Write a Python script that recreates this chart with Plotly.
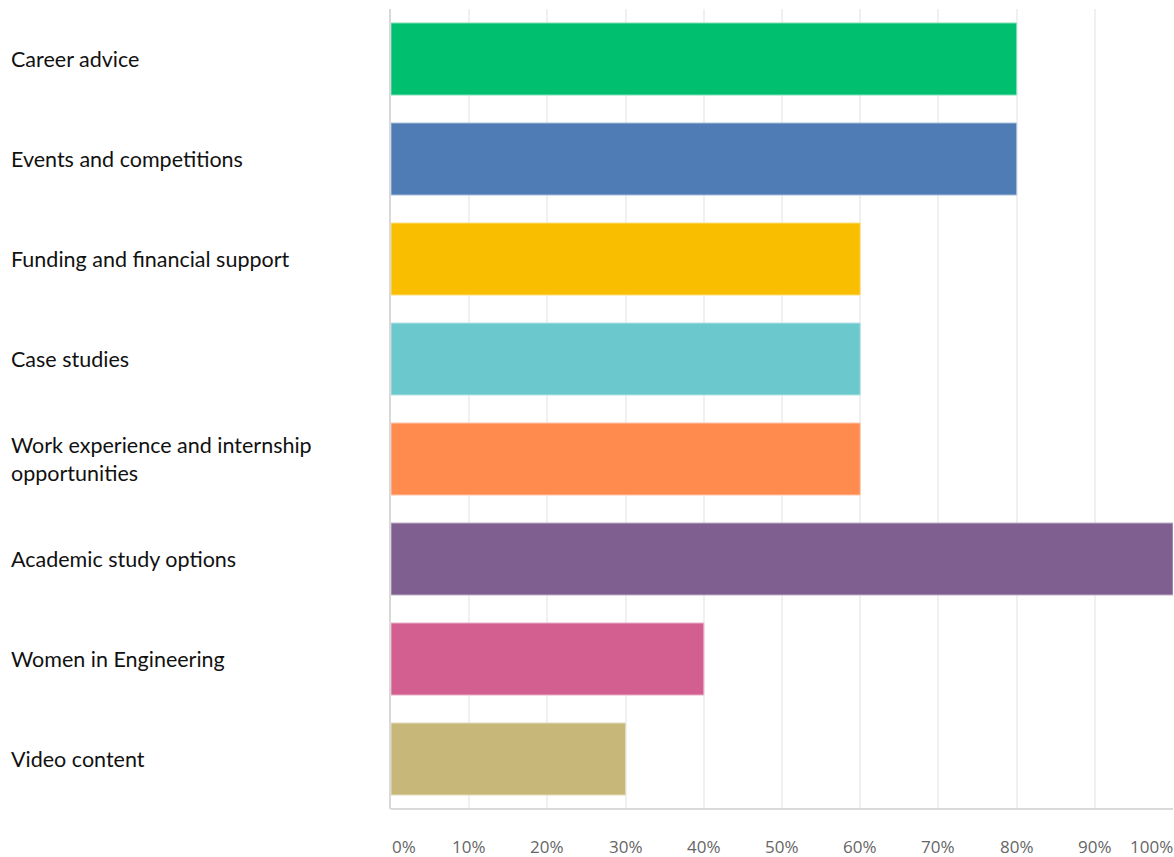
import plotly.graph_objects as go

categories = [
    "Career advice",
    "Events and competitions",
    "Funding and financial support",
    "Case studies",
    "Work experience and internship<br>opportunities",
    "Academic study options",
    "Women in Engineering",
    "Video content",
]
values = [80, 80, 60, 60, 60, 100, 40, 30]
colors = ["#00bf6f", "#507cb6", "#f9be00", "#6bc8cd", "#ff8b4f", "#7f5f90", "#d25f90", "#c7b879"]
border_colors = ["#7fdfb7", "#a7bdda", "#fcdf7f", "#b5e3e6", "#ffc5a7", "#bfafc7", "#e8afc7", "#e3dbbc"]
tick_vals = [0, 10, 20, 30, 40, 50, 60, 70, 80, 90, 100]
tick_text = ["0%", "10%", "20%", "30%", "40%", "50%", "60%", "70%", "80%", "90%", "100%"]

fig = go.Figure()
fig.add_trace(go.Bar(
    y=categories, x=values, orientation="h",
    marker=dict(color=colors, line=dict(color=border_colors, width=1)),
    width=0.72, hoverinfo="x+y",
))

annotations = []
for c in categories:
    annotations.append(dict(
        x=0, xref="paper", y=c, yref="y", xanchor="left", xshift=-382,
        text=c, showarrow=False, align="left",
        font=dict(family="Lato, Calibri, sans-serif", size=21.5, color="#111111"),
    ))
for v, t in zip(tick_vals, tick_text):
    anchor = "center"
    shift = 0
    if v == 0:
        anchor, shift = "left", 0
    elif v == 100:
        anchor, shift = "right", 1
    annotations.append(dict(
        x=v, xref="x", y=0, yref="paper", yanchor="middle", yshift=-37,
        xanchor=anchor, xshift=shift, text=t, showarrow=False, borderpad=0,
        font=dict(family="Open Sans, Helvetica, sans-serif", size=17, color="#666666"),
    ))

fig.update_layout(
    width=1174, height=857,
    margin=dict(l=391, r=1, t=9, b=48),
    paper_bgcolor="white", plot_bgcolor="white",
    showlegend=False,
    annotations=annotations,
    bargap=0.28,
)
fig.update_xaxes(
    range=[0, 100], tickvals=tick_vals, showticklabels=False,
    showgrid=True, gridcolor="#f0f0f0", gridwidth=2,
    showline=False, zeroline=False, fixedrange=True,
)
fig.update_yaxes(
    autorange="reversed", showticklabels=False, showgrid=False,
    showline=True, linecolor="#d9d9d9", linewidth=2, mirror=False,
    zeroline=False, fixedrange=True,
)
fig.add_shape(type="line", xref="paper", yref="paper", x0=0, x1=1, y0=0, y1=0,
              line=dict(color="#d9d9d9", width=2))

fig.write_html(
    "out.html",
    config={"displayModeBar": False},
    post_script="document.body.style.margin='0';document.body.style.overflow='hidden';",
)
